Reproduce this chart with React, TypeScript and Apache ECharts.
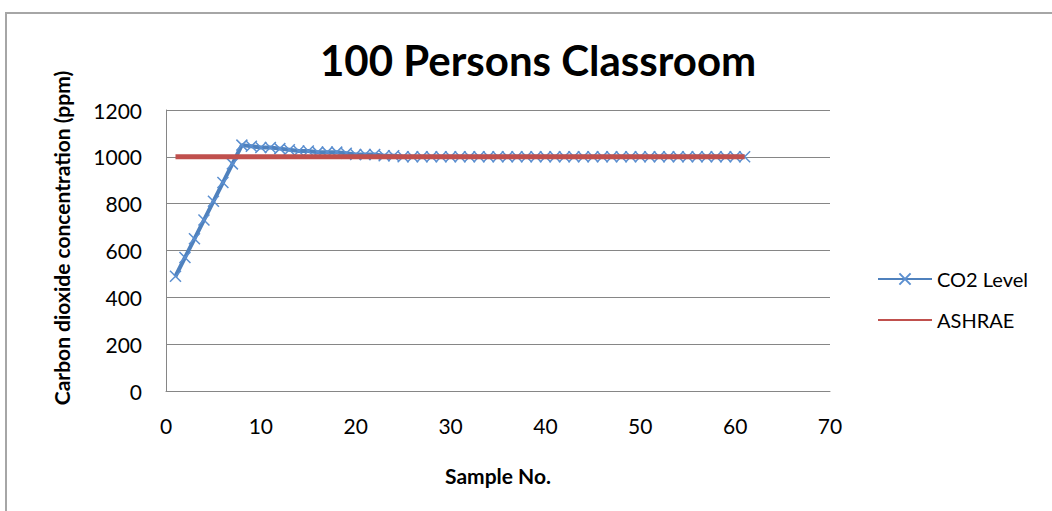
import React, { useEffect, useRef } from "react";
import * as echarts from "echarts";

const sampleNo: number[] = Array.from({ length: 61 }, (_, i) => i + 1);
const co2Level: number[] = [
  490, 570, 650, 730, 810, 890, 970, 1050, 1045, 1040,
  1040, 1035, 1030, 1025, 1025, 1020, 1020, 1020, 1015, 1010,
  1010, 1010, 1005, 1005, 1000, 1000, 1000, 1000, 1000, 1000,
  1000, 1000, 1000, 1000, 1000, 1000, 1000, 1000, 1000, 1000,
  1000, 1000, 1000, 1000, 1000, 1000, 1000, 1000, 1000, 1000,
  1000, 1000, 1000, 1000, 1000, 1000, 1000, 1000, 1000, 1000,
  1000,
];
const ashrae: number[] = sampleNo.map(() => 1000);

const FONT = "Lato";

export default function App() {
  const ref = useRef<HTMLDivElement>(null);
  useEffect(() => {
    if (!ref.current) return;
    const chart = echarts.init(ref.current, null, { renderer: "svg" });
    const axisColor = "#868686";
    chart.setOption({
      animation: false,
      backgroundColor: "#ffffff",
      textStyle: { fontFamily: FONT },
      graphic: [
        {
          type: "rect",
          shape: { x: 6, y: 13, width: 1100, height: 600 },
          style: { fill: "none", stroke: "#a6a6a6", lineWidth: 2 },
          silent: true,
        },
        {
          type: "text",
          x: 61,
          y: 238,
          rotation: Math.PI / 2,
          style: {
            text: "Carbon dioxide concentration (ppm)",
            fontFamily: FONT,
            fontSize: 21,
            fontWeight: "bold",
            fill: "#000",
            align: "center",
            verticalAlign: "middle",
          },
          silent: true,
        },
      ],
      title: {
        text: "100 Persons Classroom",
        left: 315,
        top: 34,
        textStyle: { fontFamily: FONT, fontSize: 42, fontWeight: "bold", color: "#000" },
      },
      legend: {
        orient: "vertical",
        left: 872,
        top: 264,
        itemWidth: 54,
        itemHeight: 14,
        itemGap: 21,
        textStyle: { fontFamily: FONT, fontSize: 20, color: "#000" },
        data: [
          { name: "CO2 Level" },
          {
            name: "ASHRAE",
            itemStyle: { color: "transparent", borderColor: "transparent", borderWidth: 0 },
          },
        ],
      },
      grid: { left: 166, right: 222, top: 110, bottom: 120, containLabel: false },
      xAxis: {
        type: "value",
        min: 0,
        max: 70,
        interval: 10,
        name: "Sample No.",
        nameLocation: "middle",
        nameGap: 74,
        nameTextStyle: { fontFamily: FONT, fontSize: 21, fontWeight: "bold", color: "#000" },
        axisLine: { show: true, lineStyle: { color: axisColor, width: 1 } },
        axisTick: { show: false },
        splitLine: { show: false },
        axisLabel: { fontFamily: FONT, fontSize: 21, color: "#000", margin: 24 },
      },
      yAxis: {
        type: "value",
        min: 0,
        max: 1200,
        interval: 200,
        axisLine: { show: true, lineStyle: { color: axisColor, width: 1 } },
        axisTick: { show: false },
        splitLine: { show: true, lineStyle: { color: axisColor, width: 1 } },
        axisLabel: {
          fontFamily: FONT,
          fontSize: 21,
          color: "#000",
          margin: 24,
          formatter: (v: number) => String(v),
        },
      },
      series: [
        {
          name: "CO2 Level",
          type: "line",
          data: sampleNo.map((x, i) => [x, co2Level[i]]),
          symbol: "path://M0,0L10,10M10,0L0,10",
          symbolSize: 11,
          showSymbol: true,
          lineStyle: { color: "#4F81BD", width: 4 },
          itemStyle: { color: "#4F81BD", borderColor: "#5B8FD0", borderWidth: 1.5 },
          z: 2,
        },
        {
          name: "ASHRAE",
          type: "line",
          data: sampleNo.map((x, i) => [x, ashrae[i]]),
          symbol: "none",
          lineStyle: { color: "#C0504D", width: 5 },
          itemStyle: { color: "#C0504D" },
          z: 3,
        },
      ],
    });
    return () => chart.dispose();
  }, []);
  return (
    <div
      ref={ref}
      style={{ position: "fixed", left: 0, top: 0, width: 1052, height: 511 }}
    />
  );
}
